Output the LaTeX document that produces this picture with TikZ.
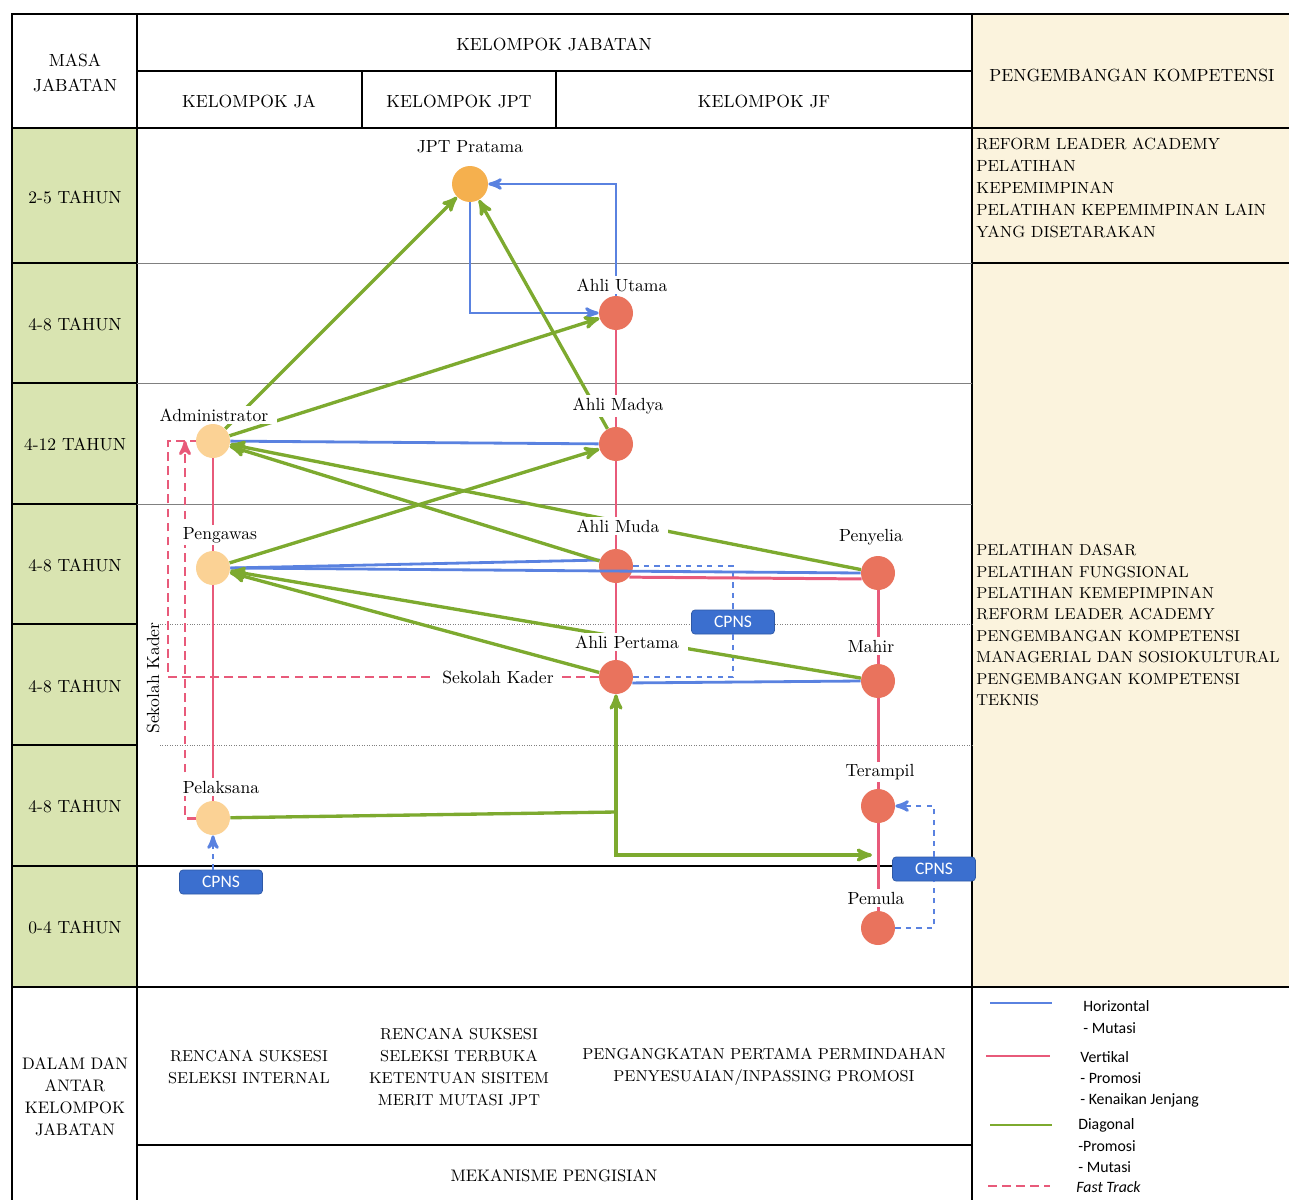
\documentclass[tikz,border=0pt]{standalone}
\usepackage{fontspec}
\newfontfamily\legendfont{Carlito}
\usetikzlibrary{arrows,shapes,positioning,calc}
\definecolor{jptorange}{HTML}{F5B04E}
\definecolor{jaorange}{HTML}{FBD295}
\definecolor{jfred}{HTML}{E9735D}
\definecolor{horblue}{HTML}{5A82E0}
\definecolor{verred}{HTML}{E85A7A}
\definecolor{diaggreen}{HTML}{7DAA2F}
\definecolor{cpnsblue}{HTML}{3B6FCF}
\definecolor{masagreen}{HTML}{D9E4B1}
\definecolor{kompbeige}{HTML}{FBF3DD}
\tikzset{
    jpt/.style={
        circle,
        fill=jptorange,
        minimum size=7.2mm,
        inner sep=0pt,
    },
    ja/.style={
        circle,
        fill=jaorange,
        minimum size=6.8mm,
        inner sep=0pt,
    },
    jf/.style={
        circle,
        fill=jfred,
        minimum size=6.8mm,
        inner sep=0pt,
    },
    lbl/.style={
        fill=white,
        inner xsep=5pt,
        inner ysep=1.5pt,
        font=\normalsize,
    },
    cpns/.style={
        rectangle,
        rounded corners=2pt,
        fill=cpnsblue,
        draw=cpnsblue!80!black,
        text=white,
        font=\legendfont\fontsize{10}{12}\selectfont,
        minimum width=16.6mm,
        minimum height=4.8mm,
        inner sep=0pt,
    },
    hor/.style={
        draw=horblue,
        line width=1.6pt,
        >=stealth',
    },
    ver/.style={
        draw=verred,
        line width=1.7pt,
        >=stealth',
    },
    diag/.style={
        draw=diaggreen,
        line width=1.9pt,
        >=stealth',
    },
    fast/.style={
        draw=verred,
        line width=1.7pt,
        dash pattern=on 5pt off 3pt,
        >=stealth',
    },
    rowline/.style={
        draw=black,
        line width=0.6pt,
    },
    thinline/.style={
        draw=gray,
        line width=0.4pt,
    },
    judul/.style={
        font=\fontsize{10}{12.5}\selectfont,
        align=center,
    },
    isian/.style={
        font=\fontsize{9}{12.5}\selectfont,
        align=center,
    },
    komp/.style={
        font=\fontsize{9.2}{12.4}\selectfont,
        align=left,
        anchor=north west,
        inner sep=0pt,
    },
    legenda/.style={
        font=\legendfont\fontsize{9}{11}\selectfont,
        anchor=west,
        inner sep=0pt,
    },
}

\begin{document}
\begin{tikzpicture}[x=0.02cm, y=-0.02cm]
    \useasboundingbox (0,0) rectangle (1289,1200);

    % kolom berwarna
    \fill[masagreen] (12,128) rectangle (137,987);
    \fill[kompbeige] (972,14) rectangle (1289,987);

    % garis tabel
    \draw[rowline] (137,14) -- (137,1200);
    \draw[rowline] (972,14) -- (972,1200);
    \draw[rowline] (137,71) -- (972,71);
    \draw[rowline] (362,71) -- (362,128);
    \draw[rowline] (556,71) -- (556,128);
    \draw[rowline] (12,128) -- (1289,128);
    \draw[rowline] (12,263) -- (137,263);
    \draw[thinline] (137,263) -- (972,263);
    \draw[rowline] (972,263) -- (1289,263);
    \foreach \y in {383,504,624,745} \draw[rowline] (12,\y) -- (137,\y);
    \foreach \y in {383,504} \draw[thinline] (137,\y) -- (972,\y);
    \foreach \y in {624,745} \draw[thinline, densely dotted] (160,\y) -- (972,\y);
    \draw[rowline] (12,866) -- (972,866);
    \draw[rowline] (12,987) -- (1289,987);
    \draw[rowline] (137,1145) -- (972,1145);
    \draw[line width=1.6pt] (12,1200) -- (12,14) -- (1289,14);

    % judul
    \node[judul, font=\fontsize{10}{14}\selectfont] (masa) at (75,73) {MASA\\JABATAN};
    \node[judul] (kelompok) at (554,44) {KELOMPOK JABATAN};
    \node[judul] (kja) at (249,101) {KELOMPOK JA};
    \node[judul] (kjpt) at (459,101) {KELOMPOK JPT};
    \node[judul] (kjf) at (764,101) {KELOMPOK JF};
    \node[judul] (pengembangan) at (1132,75) {PENGEMBANGAN KOMPETENSI};
    \foreach \y/\t in {197/2-5 TAHUN, 324/4-8 TAHUN, 444/4-12 TAHUN, 565/4-8 TAHUN,
                       686/4-8 TAHUN, 806/4-8 TAHUN, 927/0-4 TAHUN}
        \node[judul] (masa\y) at (75,\y) {\t};

    \node[komp] (kompjpt) at (976,138) {REFORM LEADER ACADEMY\\PELATIHAN\\KEPEMIMPINAN\\PELATIHAN KEPEMIMPINAN LAIN\\YANG DISETARAKAN};
    \node[komp, font=\fontsize{9}{12.2}\selectfont] (komplain) at (976,544) {PELATIHAN DASAR\\PELATIHAN FUNGSIONAL\\PELATIHAN KEMEPIMPINAN\\REFORM LEADER ACADEMY\\PENGEMBANGAN KOMPETENSI\\MANAGERIAL DAN SOSIOKULTURAL\\PENGEMBANGAN KOMPETENSI\\TEKNIS};

    \node[isian, font=\fontsize{9.5}{12.5}\selectfont] (dalam) at (75,1097) {DALAM DAN\\ANTAR\\KELOMPOK\\JABATAN};
    \node[isian] (isija) at (249,1067) {RENCANA SUKSESI\\SELEKSI INTERNAL};
    \node[isian] (isijpt) at (459,1067) {RENCANA SUKSESI\\SELEKSI TERBUKA\\KETENTUAN SISITEM\\MERIT MUTASI JPT};
    \node[isian] (isijf) at (764,1067) {PENGANGKATAN PERTAMA PERMINDAHAN\\PENYESUAIAN/INPASSING PROMOSI};
    \node[isian, font=\fontsize{9.5}{12}\selectfont] (mekanisme) at (554,1176) {MEKANISME PENGISIAN};

    % jabatan
    \node[jpt] (jpt) at (470,184) {};
    \node[jf] (utama) at (616,313) {};
    \node[jf] (madya) at (616,444) {};
    \node[jf] (muda) at (616,566) {};
    \node[jf] (pertama) at (616,677) {};
    \node[jf] (penyelia) at (878,573) {};
    \node[jf] (mahir) at (878,681) {};
    \node[jf] (terampil) at (878,806) {};
    \node[jf] (pemula) at (878,928) {};
    \node[ja] (admin) at (213,441) {};
    \node[ja] (pengawas) at (213,568) {};
    \node[ja] (pelaksana) at (213,818) {};
    \coordinate (kader) at (168,677);
    \coordinate (jalur) at (185,441);
    \coordinate (belok) at (616,812);
    \coordinate (tujuan) at (872,855);

    \node[cpns] (cpnsa) at (733,622) {CPNS};
    \node[cpns] (cpnsb) at (221,882) {CPNS};
    \node[cpns] (cpnsc) at (934,869) {CPNS};

    % horizontal
    \draw[hor,->] (utama.north) |- (jpt.east);
    \draw[hor,->] (jpt.south) |- (utama.west);
    \draw[hor] (madya) -- (admin);
    \draw[hor] (pengawas.east) -- (muda.160);
    \draw[hor] (pengawas.east) -- (penyelia.west);
    \draw[hor] (mahir.west) -- (pertama.-20);
    \draw[hor,dashed] (muda.east) -| (cpnsa.north);
    \draw[hor,dashed] (cpnsa.south) |- (pertama.east);
    \draw[hor,dashed] (pemula.east) -| (cpnsc.south);
    \draw[hor,dashed,->] (cpnsc.north) |- (terampil.east);
    \draw[hor,dashed,->] (cpnsb.north -| pelaksana) -- (pelaksana);

    % vertikal
    \draw[ver] (utama) -- (madya);
    \draw[ver] (madya) -- (muda);
    \draw[ver] (muda) -- (pertama);
    \draw[ver] (penyelia) -- (mahir);
    \draw[ver] (mahir) -- (terampil);
    \draw[ver] (terampil) -- (pemula);
    \draw[ver] (admin) -- (pengawas);
    \draw[ver] (pengawas) -- (pelaksana);
    \draw[ver] (muda.-40) -- (penyelia.-160);

    % fast track
    \draw[fast] (pertama.west) -- (kader) |- (admin.west);
    \draw[fast,->] (pelaksana.west) -| (jalur);

    % diagonal
    \draw[diag,->] (admin) -- (jpt);
    \draw[diag,->] (admin) -- (utama);
    \draw[diag,->] (madya) -- (jpt);
    \draw[diag,->] (muda) -- (admin);
    \draw[diag,->] (penyelia) -- (admin);
    \draw[diag,->] (pengawas) -- (madya);
    \draw[diag,->] (pertama) -- (pengawas);
    \draw[diag,->] (mahir) -- (pengawas);
    \draw[diag] (pelaksana) -- (belok);
    \draw[diag,->] (belok) -- (pertama);
    \draw[diag,->] (belok) |- (tujuan);

    % nama jabatan
    \node[lbl] (ljpt) at (470,147) {JPT Pratama};
    \node[lbl] (lutama) at (622,285) {Ahli Utama};
    \node[lbl] (lmadya) at (618,406) {Ahli Madya};
    \node[lbl] (lmuda) at (618,526) {Ahli Muda};
    \node[lbl] (lpertama) at (627,642) {Ahli Pertama};
    \node[lbl] (lpenyelia) at (871,537) {Penyelia};
    \node[lbl] (lmahir) at (871,646) {Mahir};
    \node[lbl] (lterampil) at (880,772) {Terampil};
    \node[lbl] (lpemula) at (876,898) {Pemula};
    \node[lbl] (ladmin) at (214,415) {Administrator};
    \node[lbl] (lpengawas) at (220,535) {Pengawas};
    \node[lbl] (lpelaksana) at (221,787) {Pelaksana};
    \node[lbl] (lkader) at (498,677) {Sekolah Kader};
    \node[lbl, fill=none, rotate=90] (lkadervert) at (153,678) {Sekolah Kader};

    % keterangan
    \draw[hor, line width=1pt] (990,1003) -- (1052,1003);
    \draw[ver, line width=1pt] (986,1056) -- (1050,1056);
    \draw[diag, line width=1pt] (990,1125) -- (1052,1125);
    \draw[fast, line width=1.2pt] (988,1186) -- (1050,1186);
    \node[legenda] (khor) at (1083,1006) {Horizontal};
    \node[legenda] (khor1) at (1083,1028) {- Mutasi};
    \node[legenda] (kver) at (1080,1057) {Vertikal};
    \node[legenda] (kver1) at (1080,1078) {- Promosi};
    \node[legenda] (kver2) at (1080,1100) {- Kenaikan Jenjang};
    \node[legenda] (kdiag) at (1078,1125) {Diagonal};
    \node[legenda] (kdiag1) at (1078,1146) {-Promosi};
    \node[legenda] (kdiag2) at (1078,1167) {- Mutasi};
    \node[legenda, font=\legendfont\itshape\fontsize{9}{11}\selectfont] (kfast) at (1076,1187) {Fast Track};
\end{tikzpicture}
\end{document}
